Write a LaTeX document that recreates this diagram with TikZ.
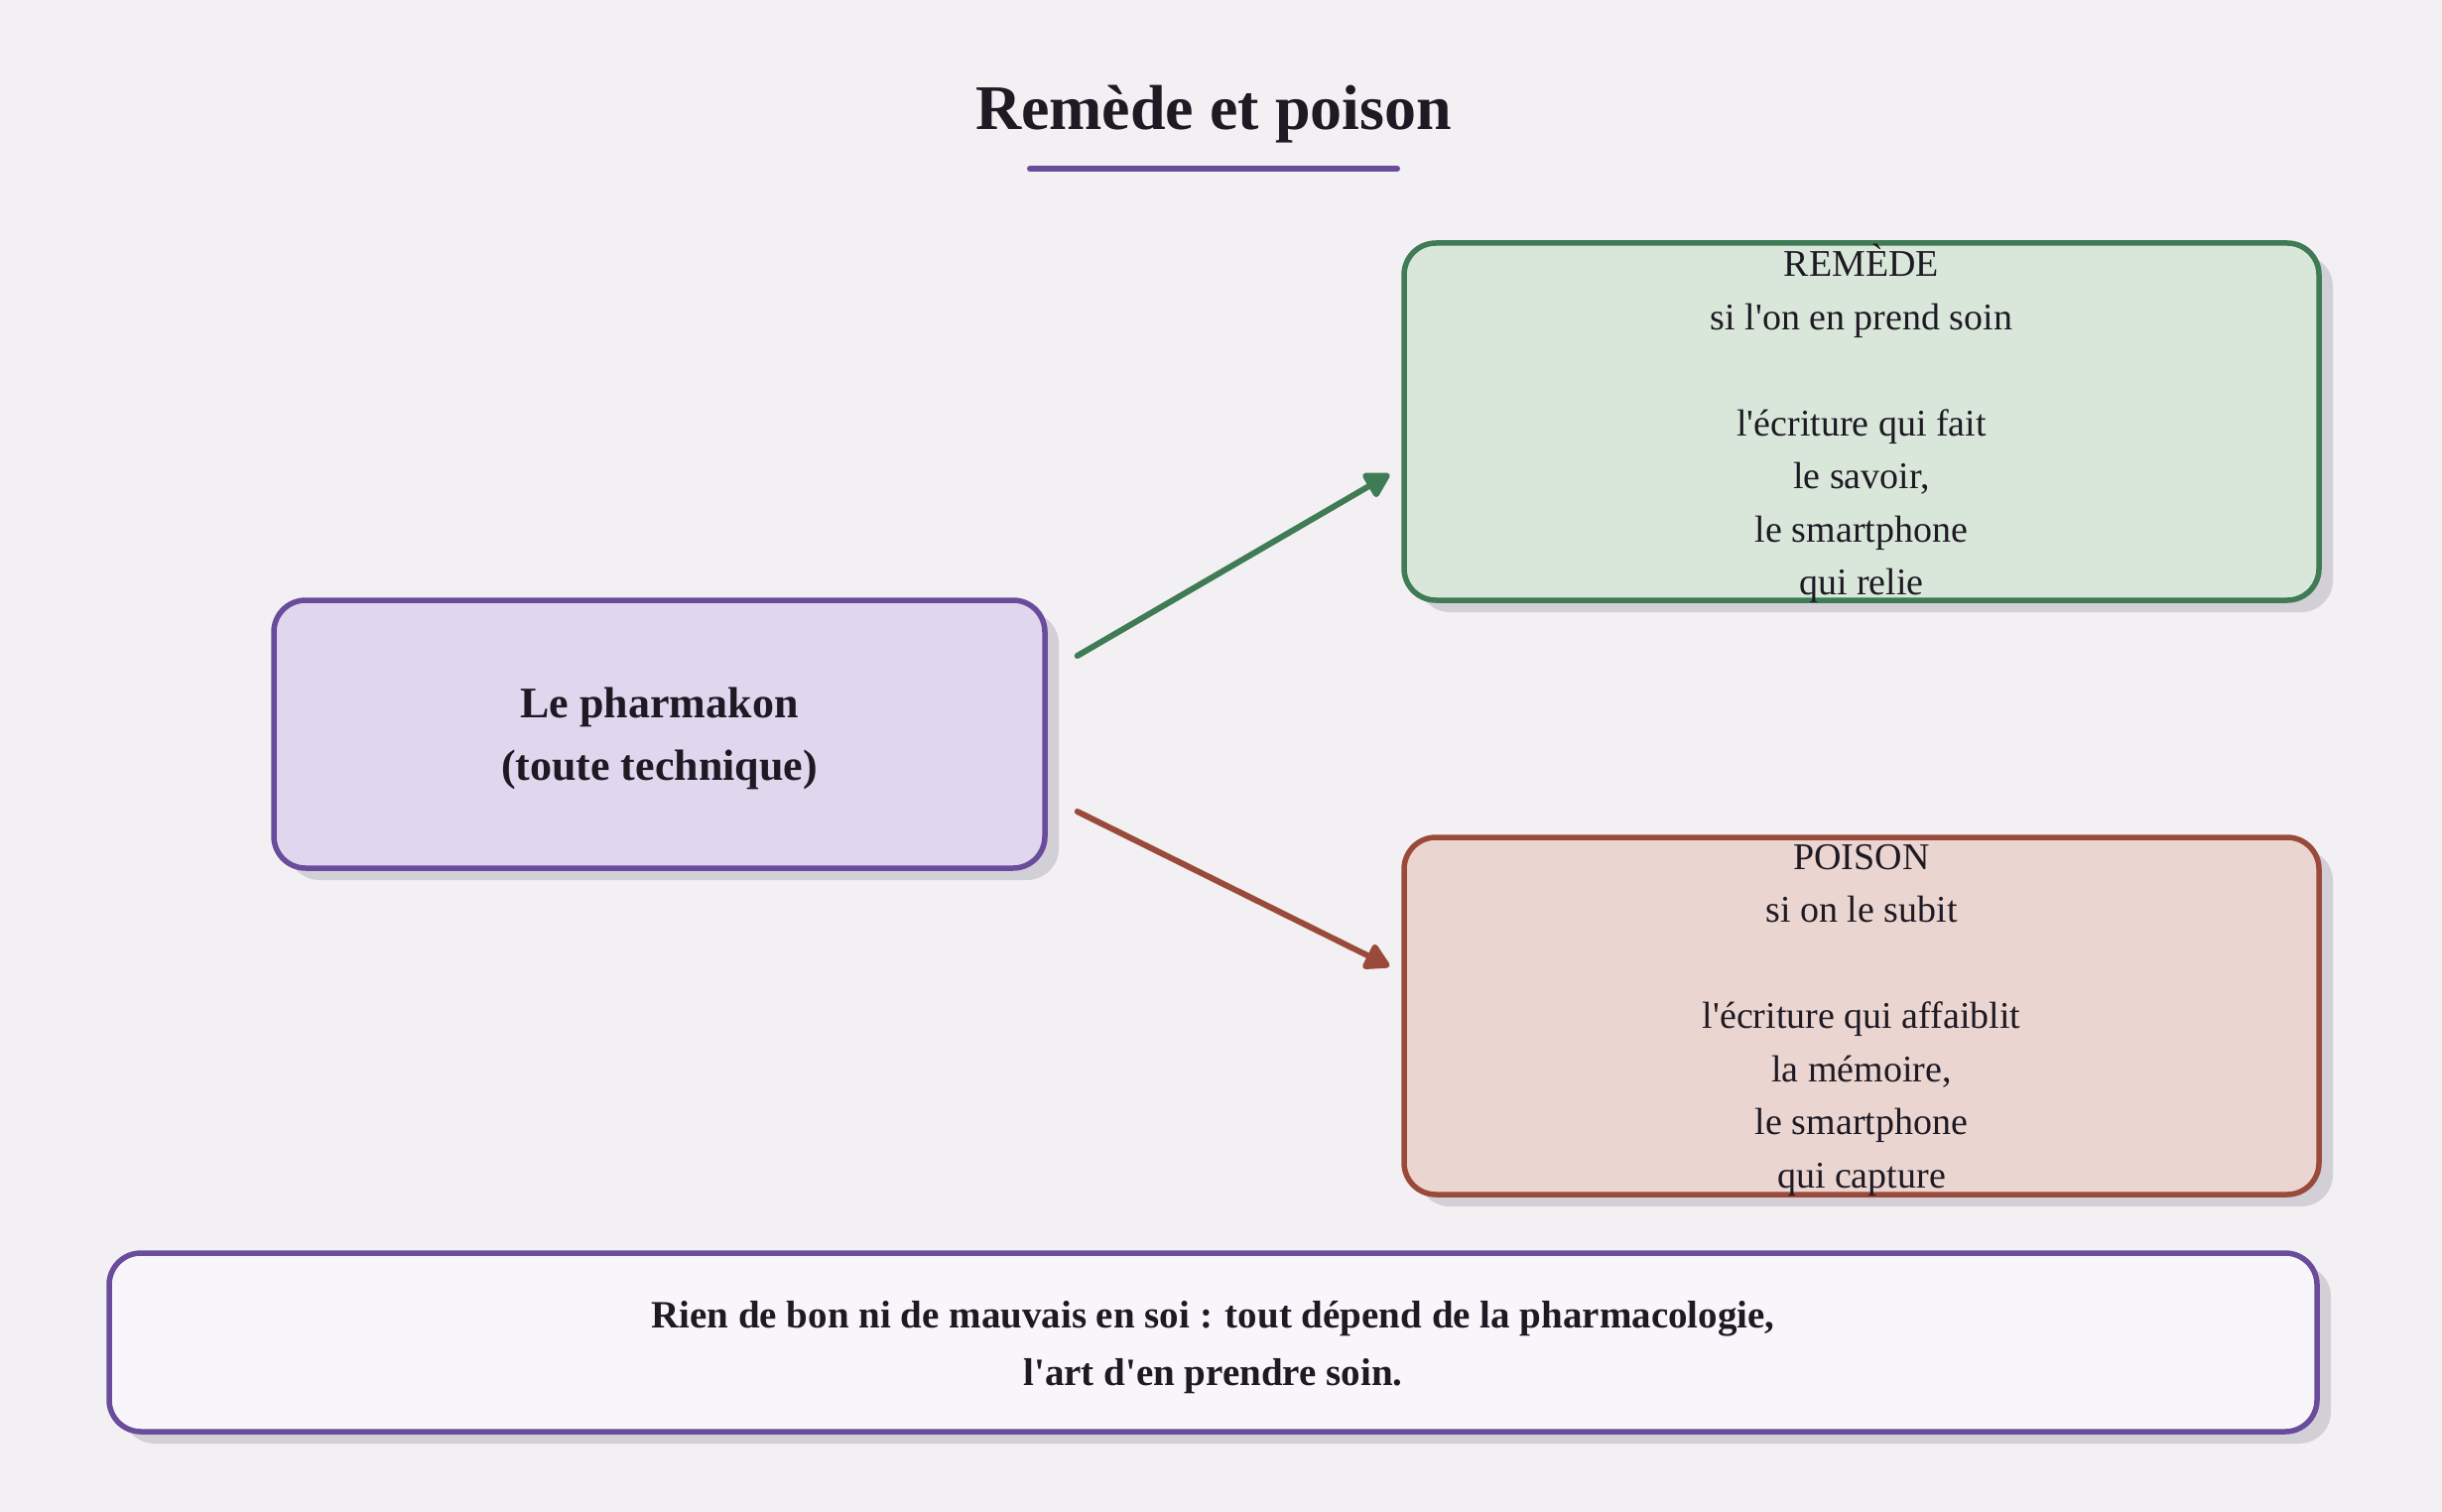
\documentclass[tikz,border=0pt]{standalone}
\usepackage{fontspec}
\setmainfont{Liberation Serif}[Ligatures=TeXOff]
\usetikzlibrary{arrows.meta,calc,shadows}
\definecolor{bgc}{HTML}{F2F0F3}
\definecolor{purp}{HTML}{6A4C9C}
\definecolor{purpfill}{HTML}{E0D6EE}
\definecolor{grn}{HTML}{3F7B54}
\definecolor{grnfill}{HTML}{D9E7DA}
\definecolor{redd}{HTML}{9A4A3A}
\definecolor{redfill}{HTML}{EBD5D0}
\definecolor{botfill}{HTML}{F8F6FA}
\definecolor{shad}{HTML}{D3CFD6}
\definecolor{ink}{HTML}{1E1A24}
\tikzset{
  box/.style={draw, rounded corners=16pt, line width=2.75pt, inner sep=0pt,
    drop shadow={shadow xshift=7pt, shadow yshift=-6pt, fill=shad, opacity=1}},
  sidebox/.style={box, minimum width=461pt, minimum height=180pt},
  bodytxt/.style={text=ink, align=center, font=\fontsize{19}{26.75}\selectfont},
  boldtxt/.style={text=ink, align=center},
  conn/.style={line width=3pt, line cap=round, -{Triangle[length=14pt,width=15pt,round]}},
}
\begin{document}
\begin{tikzpicture}[x=0.5pt,y=-0.5pt]
\useasboundingbox (0,0) rectangle (2461,1524);
\fill[bgc] (0,0) rectangle (2461,1524);

% title
\node[boldtxt, font=\bfseries\fontsize{32}{38}\selectfont, anchor=base] (title) at (1223,131) {Remède et poison};
\coordinate (ulA) at (1038,170);
\coordinate (ulB) at (1408,170);
\draw[purp, line width=3pt, line cap=round] (ulA) -- (ulB);

% left box
\node[box, draw=purp, fill=purpfill, minimum width=388.5pt, minimum height=135pt] (pharm) at (664.5,740) {};
\node[boldtxt, font=\bfseries\fontsize{22}{31.5}\selectfont] (pharmtxt) at ($(pharm.center)+(0,4)$)
  {Le pharmakon\\(toute technique)};

% remede
\node[sidebox, draw=grn, fill=grnfill] (remede) at (1876,425) {};
\node[bodytxt] (remtxt) at ($(remede.center)+(0,2)$)
  {REMÈDE\\si l'on en prend soin\\[26.75pt]l'écriture qui fait\\le savoir,\\le smartphone\\qui relie};

% poison
\node[sidebox, draw=redd, fill=redfill] (poison) at (1876,1024) {};
\node[bodytxt] (poitxt) at ($(poison.center)+(0,4)$)
  {POISON\\si on le subit\\[26.75pt]l'écriture qui affaiblit\\la mémoire,\\le smartphone\\qui capture};

% bottom
\node[box, draw=purp, fill=botfill, minimum width=1112.5pt, minimum height=90pt] (bottom) at (1222.5,1353) {};
\node[boldtxt, font=\bfseries\fontsize{19.5}{29}\selectfont] (bottxt) at ($(bottom.center)+(0,5)$)
  {Rien de bon ni de mauvais en soi : tout dépend de la pharmacologie,\\l'art d'en prendre soin.};

% connectors
\draw[conn, grn] ($(pharm.east)+(30,-79)$) -- ($(remede.west)+(-12,53)$);
\draw[conn, redd] ($(pharm.east)+(30,78)$) -- ($(poison.west)+(-12,-50)$);
\end{tikzpicture}
\end{document}
